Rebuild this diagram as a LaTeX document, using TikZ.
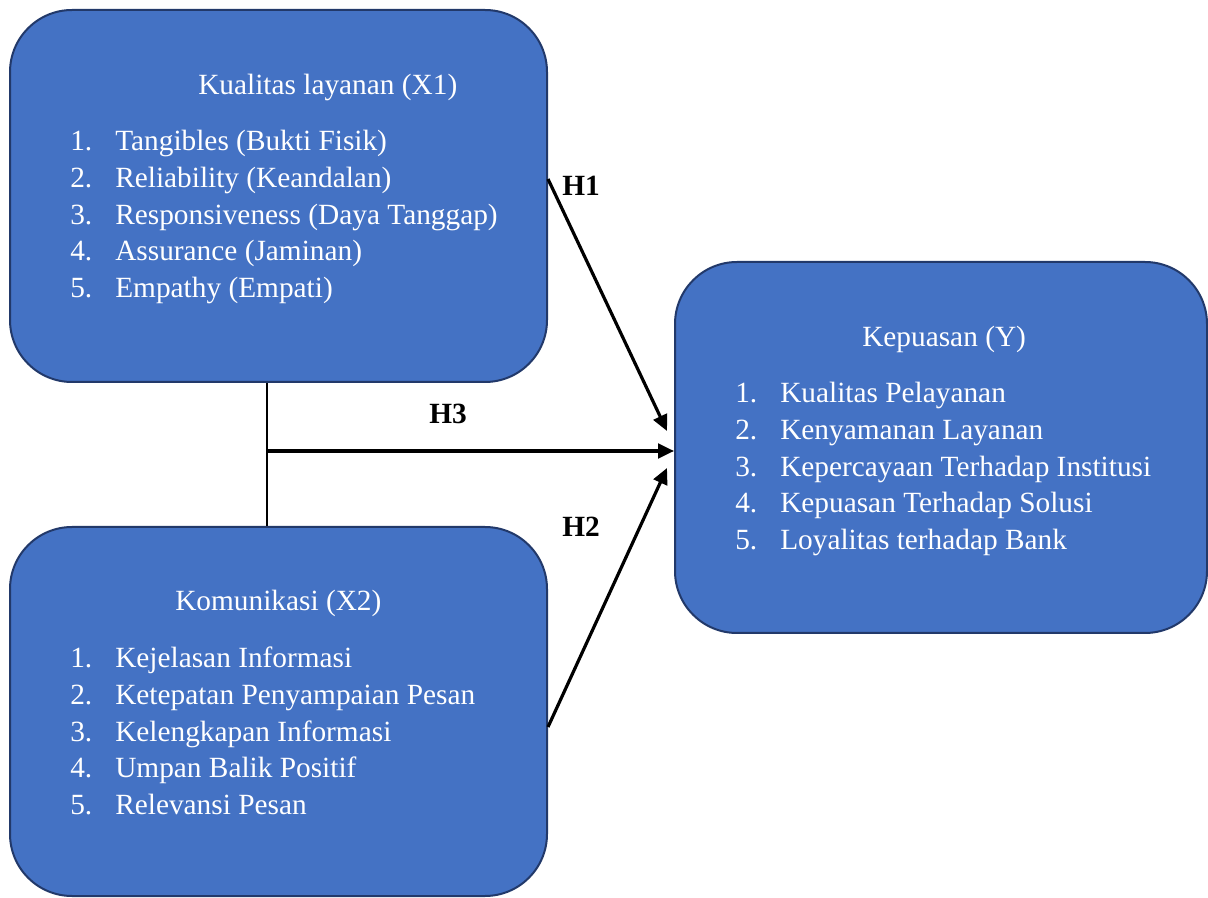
\documentclass[tikz,border=0pt]{standalone}
\usepackage{fontspec}
\setmainfont{Liberation Serif}
\usetikzlibrary{arrows.meta,calc}
\definecolor{boxfill}{HTML}{4472C4}
\definecolor{boxline}{HTML}{22396A}
\begin{document}
\begin{tikzpicture}[x=0.75pt,y=-0.75pt,
  box/.style={draw=boxline, fill=boxfill, line width=1.5pt, rounded corners=46.5pt, rectangle, inner sep=0pt},
  txt/.style={text=white, font=\fontsize{22}{27.75}\selectfont, anchor=base west, inner sep=0pt},
  lbl/.style={font=\bfseries\fontsize{22}{27}\selectfont, anchor=base west, inner sep=0pt},
  conn/.style={line width=2.4pt, -{Triangle[length=12pt,width=11pt]}},
  plain/.style={line width=1.6pt}]
\fill[white] (0,0) rectangle (1208,898);
\useasboundingbox (0,0) rectangle (1208,898);
% boxes
\node[box, minimum width=402.75pt, minimum height=279pt] (X1) at (278.5,196) {};
\node[box, minimum width=402.75pt, minimum height=276.75pt] (X2) at (278.5,711.5) {};
\node[box, minimum width=399pt, minimum height=278.25pt] (Y) at (941,447.5) {};
% titles
\node[txt] (X1title) at (198,94.5) {Kualitas layanan (X1)};
\node[txt] (X2title) at (175,611) {Komunikasi (X2)};
\node[txt] (Ytitle) at (862,347) {Kepuasan (Y)};
% lists
\foreach \t [count=\k] in {Tangibles (Bukti Fisik), Reliability (Keandalan), Responsiveness (Daya Tanggap), Assurance (Jaminan), Empathy (Empati)} {
  \node[txt] (x1n\k) at (70,{150.5+36.8*(\k-1)}) {\k.};
  \node[txt] (x1t\k) at (115,{150.5+36.8*(\k-1)}) {\t};
}
\foreach \t [count=\k] in {Kejelasan Informasi, Ketepatan Penyampaian Pesan, Kelengkapan Informasi, Umpan Balik Positif, Relevansi Pesan} {
  \node[txt] (x2n\k) at (70,{667.5+36.8*(\k-1)}) {\k.};
  \node[txt] (x2t\k) at (115,{667.5+36.8*(\k-1)}) {\t};
}
\foreach \t [count=\k] in {Kualitas Pelayanan, Kenyamanan Layanan, Kepercayaan Terhadap Institusi, Kepuasan Terhadap Solusi, Loyalitas terhadap Bank} {
  \node[txt] (yn\k) at (735,{402.5+36.8*(\k-1)}) {\k.};
  \node[txt] (yt\k) at (780,{402.5+36.8*(\k-1)}) {\t};
}
% connectors
\coordinate (j) at (267,451);
\draw[plain] (X1.south -| j) -- (X2.north -| j);
\draw[conn] (j) -- (Y.west |- j);
\draw[conn] ($(X1.east)+(0,-17)$) -- ($(Y.west)+(-7,-16.5)$);
\draw[conn] ($(X2.east)+(0,15.5)$) -- ($(Y.west)+(-7,20.5)$);
% labels
\node[lbl] (H1) at (562,196) {H1};
\node[lbl] (H3) at (429,424) {H3};
\node[lbl] (H2) at (562,537) {H2};
\end{tikzpicture}
\end{document}
